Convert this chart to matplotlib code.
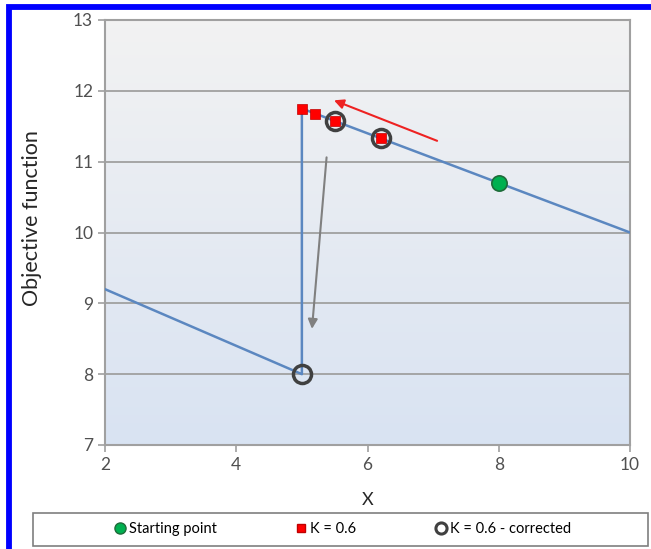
import numpy as np
import matplotlib.pyplot as plt
from matplotlib.patches import Rectangle
from matplotlib.lines import Line2D

plt.rcParams['font.family'] = ['Lato', 'DejaVu Sans']

# objective function path
path_x = [2, 5, 5, 10]
path_y = [9.2, 8.0, 11.75, 10.0]

# markers
start_x = [8.0]
start_y = [10.7]
k_x = [5.0, 5.2, 5.5, 6.2]
k_y = [11.75, 11.68, 11.575, 11.33]
corr_x = [5.0, 5.5, 6.2]
corr_y = [8.0, 11.575, 11.33]

# annotation arrows (tail, head)
red_arrow = [(7.1, 11.28), (5.45, 11.88)]
gray_arrow = [(5.38, 11.1), (5.15, 8.6)]

xticks = [2, 4, 6, 8, 10]
yticks = [7, 8, 9, 10, 11, 12, 13]

fig = plt.figure(figsize=(6.51, 5.49), dpi=100)
ax = fig.add_axes([105 / 651, 1 - 445 / 549, 525 / 651, 425 / 549])

# gradient background
grad = np.linspace(0, 1, 256).reshape(-1, 1)
top = np.array([0.95, 0.95, 0.95])
bot = np.array([0.85, 0.89, 0.95])
img = top + (bot - top) * grad[:, :, None]
ax.imshow(img, extent=[2, 10, 7, 13], aspect='auto', origin='upper', zorder=0)

for y in yticks:
    ax.axhline(y, color='#a0a0a0', lw=1.3, zorder=1)

ax.plot(path_x, path_y, color='#5b87c0', lw=1.8, zorder=3)
ax.plot(start_x, start_y, 'o', ms=11, mfc='#00b050', mec='#1f6b3a', mew=1.2, zorder=5)
ax.plot(k_x, k_y, 's', ms=6.5, mfc='#ff0000', mec='#c00000', mew=0.5, zorder=5)
ax.plot(corr_x, corr_y, 'o', ms=13, mfc='none', mec='#404040', mew=2.5, zorder=4)

ax.annotate('', xy=red_arrow[1], xytext=red_arrow[0],
            arrowprops=dict(arrowstyle='-|>', color='#ee2222', lw=1.5, mutation_scale=14), zorder=6)
ax.annotate('', xy=gray_arrow[1], xytext=gray_arrow[0],
            arrowprops=dict(arrowstyle='-|>', color='#808080', lw=1.5, mutation_scale=14), zorder=6)

ax.set_xlim(2, 10)
ax.set_ylim(7, 13)
ax.set_xticks(xticks)
ax.set_yticks(yticks)
ax.tick_params(colors='#a0a0a0', labelcolor='#505050', labelsize=12.5, length=5, width=1.2)
for s in ax.spines.values():
    s.set_color('#a0a0a0')
    s.set_linewidth(1.5)

ax.set_xlabel('X', fontsize=13, color='#262626', labelpad=14)
ax.set_ylabel('Objective function', fontsize=15.5, color='#262626')
ax.yaxis.set_label_coords(-0.12, 0.535)

# legend box
fig.patches.append(Rectangle((33 / 651, 1 - 546 / 549), 615 / 651, 33 / 549,
                             transform=fig.transFigure, fill=False, ec='#7f7f7f', lw=1.2))
handles = [
    Line2D([], [], ls='none', marker='o', ms=8, mfc='#00b050', mec='#1f6b3a'),
    Line2D([], [], ls='none', marker='s', ms=6, mfc='#ff0000', mec='#c00000'),
    Line2D([], [], ls='none', marker='o', ms=8, mfc='none', mec='#404040', mew=2.2),
]
fig.legend(handles, ['Starting point', 'K = 0.6', 'K = 0.6 - corrected'],
           loc='center', bbox_to_anchor=(0.525, 1 - 529 / 549), ncol=3, frameon=False,
           fontsize=10.5, handletextpad=0.1, columnspacing=5.3, handlelength=1.0)

# blue frame
fig.patches.append(Rectangle((8.5 / 651, -0.1), 1.2, 1.1 - 7.5 / 549,
                             transform=fig.transFigure, fill=False, ec='#0000ff', lw=4.2))

fig.savefig('out.png', dpi=100)
